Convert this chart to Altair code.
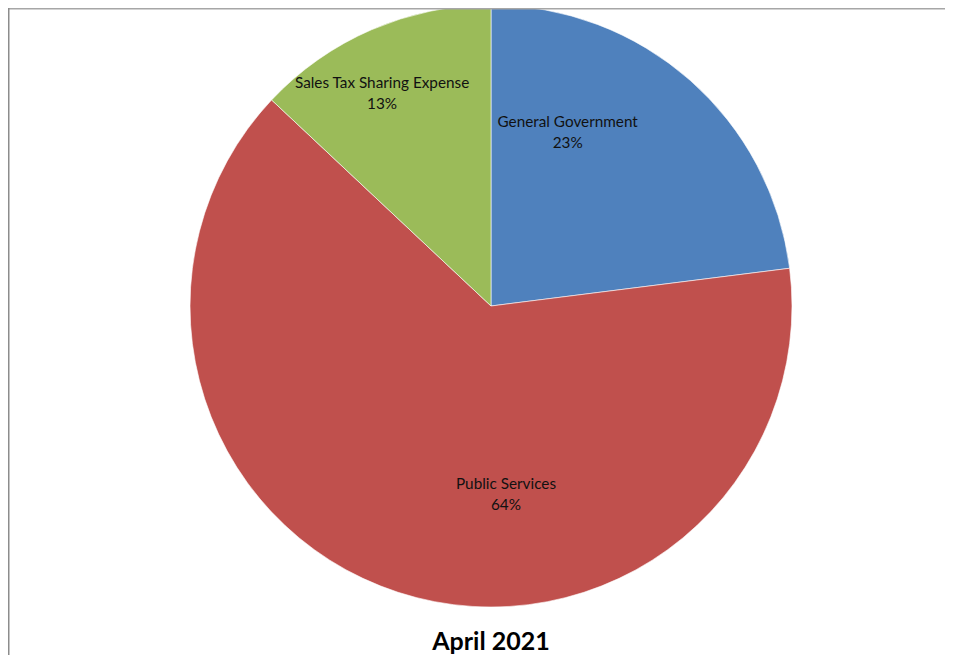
import altair as alt
import pandas as pd

categories = ["General Government", "Public Services", "Sales Tax Sharing Expense"]
values = [23, 64, 13]
pct_labels = ["23%", "64%", "13%"]
colors = ["#4F81BD", "#C0504D", "#9BBB59"]
title_text = "April 2021"

df = pd.DataFrame({"category": categories, "value": values, "pct": pct_labels})

FONT = "Lato"
W, H = 908, 596
PAD_L, PAD_B = 29, 51

arc = alt.Chart(df).transform_window(idx="row_number()").mark_arc(
    outerRadius=301, stroke="white", strokeWidth=0.6
).encode(
    theta=alt.Theta("value:Q", stack=True),
    color=alt.Color("category:N", sort=categories,
                    scale=alt.Scale(domain=categories, range=colors), legend=None),
    order=alt.Order("idx:Q"),
)


def label_layer(cat, r, dx, dy):
    return alt.Chart(df).transform_window(
        cum="sum(value)", frame=[None, 0]
    ).transform_calculate(
        mid="datum.cum - datum.value / 2",
        lbl="datum.category + '\\n' + datum.pct",
    ).transform_filter(
        alt.datum.category == cat
    ).mark_text(
        radius=r, dx=dx, dy=dy, font=FONT, fontSize=15.3, color="#111111",
        lineBreak="\n", lineHeight=21, align="center", baseline="middle",
    ).encode(
        theta=alt.Theta("mid:Q"),
        text="lbl:N",
    )


labels = [
    label_layer("General Government", 190, -49, -41.5),
    label_layer("Sales Tax Sharing Expense", 239, -14, -3.6),
    label_layer("Public Services", 189, 73.4, -1.8),
]

frame_df = pd.DataFrame({"k": [0]})
top_border = alt.Chart(frame_df).mark_rule(color="#a6a6a6", strokeWidth=1.5).encode(
    x=alt.value(-PAD_L + 0.75), x2=alt.value(W), y=alt.value(0.75)
)
left_border = alt.Chart(frame_df).mark_rule(color="#8c8c8c", strokeWidth=1.5).encode(
    x=alt.value(-PAD_L + 0.75), y=alt.value(0), y2=alt.value(H + PAD_B)
)
title = alt.Chart(frame_df).mark_text(
    text=title_text, font=FONT, fontSize=25, fontWeight="bold", color="black",
    align="center", baseline="alphabetic",
).encode(x=alt.value(W / 2), y=alt.value(642))

chart = alt.layer(arc, *labels, top_border, left_border, title).properties(
    width=W,
    height=H,
    padding={"left": PAD_L, "top": 0, "right": 0, "bottom": PAD_B},
    autosize=alt.AutoSizeParams(type="none"),
).configure_view(stroke=None)

chart.save("out.html", embed_options={"renderer": "svg", "actions": False})
